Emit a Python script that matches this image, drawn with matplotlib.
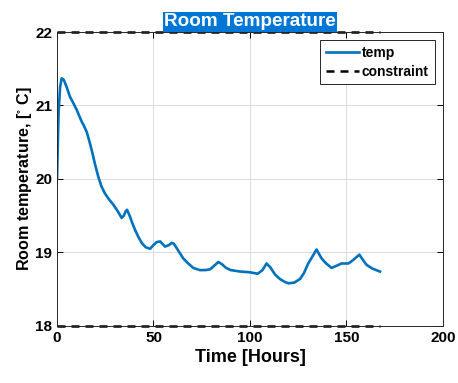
import numpy as np
import matplotlib.pyplot as plt
from matplotlib import rcParams
rcParams['font.family'] = ['Liberation Sans', 'DejaVu Sans']
rcParams['mathtext.default'] = 'regular'

# room temperature
time_h = [0, 0.8, 1.6, 2.4, 3.5, 5, 6.7, 8.5, 10.2, 11.5, 12.8, 14, 15.4, 16.7, 18,
          19.7, 21.4, 23, 24.9, 27, 29.2, 31.5, 33.5, 34.6, 35.6, 36.3, 37.8, 39, 40.4,
          42, 43.9, 46, 48.2, 50, 51.6, 53.5, 56, 58, 59.4, 60.5, 62, 63.7, 65.4, 68,
          70.6, 74, 77, 79.3, 81.5, 83.6, 85.5, 87.6, 90, 95, 100, 104, 106.5, 108.6,
          110.5, 113, 115.5, 118, 120, 123, 126, 128, 130.2, 132.5, 134.5, 135.8, 137.1,
          139.5, 142.3, 145, 147.5, 151, 152.2, 154.5, 156.7, 158.5, 160.5, 163.5, 167.4]
temp = [20.0, 20.9, 21.25, 21.37, 21.35, 21.25, 21.12, 21.03, 20.94, 20.86, 20.78, 20.72,
        20.64, 20.52, 20.39, 20.2, 20.03, 19.9, 19.8, 19.72, 19.65, 19.56, 19.47, 19.5,
        19.56, 19.58, 19.49, 19.4, 19.31, 19.22, 19.13, 19.07, 19.05, 19.1, 19.14, 19.15,
        19.08, 19.1, 19.13, 19.12, 19.06, 18.99, 18.92, 18.85, 18.79, 18.76, 18.76, 18.77,
        18.82, 18.87, 18.84, 18.79, 18.76, 18.74, 18.73, 18.71, 18.76, 18.85, 18.8, 18.7,
        18.64, 18.6, 18.58, 18.59, 18.64, 18.72, 18.85, 18.95, 19.04, 18.98, 18.92, 18.85,
        18.79, 18.82, 18.85, 18.85, 18.87, 18.92, 18.97, 18.9, 18.83, 18.78, 18.74]

constraint_time = [0, 167.4]
upper_limit = [22, 22]
lower_limit = [18, 18]

def main():
    fig = plt.figure(figsize=(4.58, 3.83), dpi=100)
    ax1 = fig.add_axes([0.1245, 0.149, 0.8425, 0.7674])

    ax1.plot(time_h, temp, color='#0072BD', lw=1.9, label='temp')
    ax1.plot(constraint_time, upper_limit, color='k', ls=(0, (3.2, 2.4)), lw=1.8,
             label='constraint', clip_on=False)
    ax1.plot(constraint_time, lower_limit, color='k', ls=(0, (3.2, 2.4)), lw=1.8, clip_on=False)

    ax1.set_xlim([0, 200])
    ax1.set_ylim([18, 22])
    ax1.set_xticks([0, 50, 100, 150, 200])
    ax1.set_yticks([18, 19, 20, 21, 22])
    ax1.grid(True, color='#dcdcdc', lw=0.7)
    ax1.set_axisbelow(True)
    ax1.tick_params(direction='in', top=True, right=True, labelsize=11, length=4, width=0.7)
    for lab in ax1.get_xticklabels() + ax1.get_yticklabels():
        lab.set_fontweight('bold')
    for sp in ax1.spines.values():
        sp.set_linewidth(0.7)
        sp.set_color('#262626')

    ax1.set_xlabel('Time [Hours]', fontsize=13, fontweight='bold', labelpad=3)
    ax1.set_ylabel('Room temperature, [$^{\\circ}$ C]', fontsize=11.6, fontweight='bold', labelpad=1)
    ax1.set_title('Room Temperature', fontsize=13.6, fontweight='bold', color='white', pad=4,
                  bbox=dict(facecolor='#0076D6', edgecolor='none', pad=1))

    leg = ax1.legend(loc='upper right', prop={'weight': 'bold', 'size': 10}, fancybox=False,
                     edgecolor='#262626', framealpha=1, handlelength=2.4, handletextpad=0.2,
                     borderaxespad=0.6, labelspacing=0.35)
    leg.get_frame().set_linewidth(0.7)

    fig.savefig('out.png', dpi=100)

main()
